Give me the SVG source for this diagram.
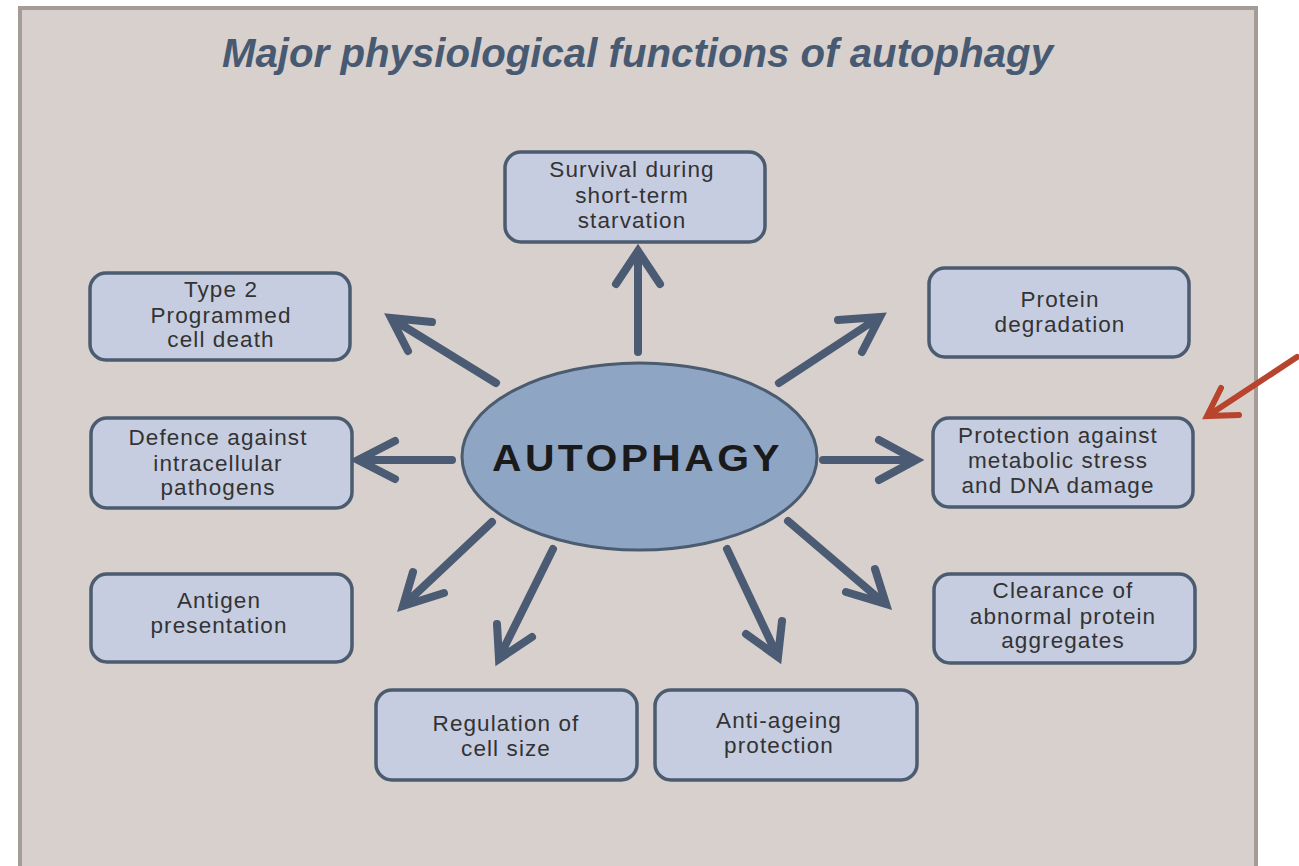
<svg xmlns="http://www.w3.org/2000/svg" width="1299" height="866" viewBox="0 0 1299 866">
  <defs>
    <style>
      .panel { fill: #d8d0cc; stroke: #a59c98; stroke-width: 4; }
      .title { font-family: "Liberation Sans", Arial, sans-serif; font-weight: bold; font-style: italic; font-size: 40px; fill: #475a72; }
      .box { fill: #c6cde0; stroke: #4b5b70; stroke-width: 3.5; }
      .lbl { font-family: "Liberation Sans", Arial, sans-serif; font-size: 22.5px; fill: #333333; letter-spacing: 1.1px; text-anchor: middle; }
      .center { fill: #8fa5c4; stroke: #4b5b70; stroke-width: 3; }
      .ctext { font-family: "Liberation Sans", Arial, sans-serif; font-weight: bold; font-size: 36px; fill: #1a1a1a; letter-spacing: 3px; }
      .arr { fill: none; stroke: #4a5b73; stroke-width: 8; stroke-linecap: round; stroke-linejoin: miter; }
      .red { fill: none; stroke: #b8442e; stroke-width: 6; stroke-linecap: round; stroke-linejoin: miter; }
    </style>
  </defs>

  <rect width="1299" height="866" fill="#ffffff"/>
  <rect class="panel" x="20" y="8" width="1236" height="880"/>

  <text class="title" x="222" y="67" textLength="831" lengthAdjust="spacingAndGlyphs">Major physiological functions of autophagy</text>

  <g id="connectors">
    <path class="arr" d="M638,352 L638,252 M616,284 L638,251 L660,284"/>
    <path class="arr" d="M496,383 L392,319 M408,351 L391,318 L432,322"/>
    <path class="arr" d="M452,460 L359,460 M395,441 L358,460 L395,479"/>
    <path class="arr" d="M492,522 L405,604 M413,572 L403,606 L444,593"/>
    <path class="arr" d="M553,549 L500,656 M497,624 L499,659 L532,637"/>
    <path class="arr" d="M727,549 L777,655 M746,634 L778,657 L782,621"/>
    <path class="arr" d="M788,521 L884,603 M846,592 L886,604 L875,569"/>
    <path class="arr" d="M823,460 L914,460 M879,440 L916,460 L879,480"/>
    <path class="arr" d="M779,383 L878,318 M838,320 L880,317 L862,352"/>
    <path class="red" d="M1297,357 L1209,415 M1221,388 L1207,416 L1239,415"/>
  </g>

  <g id="autophagy">
    <ellipse class="center" cx="639.5" cy="456.5" rx="177.5" ry="93.5"/>
    <text class="ctext" x="492" y="471" textLength="291" lengthAdjust="spacingAndGlyphs">AUTOPHAGY</text>
  </g>

  <g id="survival">
    <rect class="box" x="505" y="152" width="260" height="90" rx="16"/>
    <text class="lbl" x="632" y="177">Survival during</text>
    <text class="lbl" x="632" y="203">short-term</text>
    <text class="lbl" x="632" y="228">starvation</text>
  </g>

  <g id="type2">
    <rect class="box" x="90" y="273" width="260" height="87" rx="16"/>
    <text class="lbl" x="221" y="297">Type 2</text>
    <text class="lbl" x="221" y="323">Programmed</text>
    <text class="lbl" x="221" y="347">cell death</text>
  </g>

  <g id="protein-degradation">
    <rect class="box" x="929" y="268" width="260" height="89" rx="16"/>
    <text class="lbl" x="1060" y="307">Protein</text>
    <text class="lbl" x="1060" y="332">degradation</text>
  </g>

  <g id="defence">
    <rect class="box" x="91" y="418" width="261" height="90" rx="16"/>
    <text class="lbl" x="218" y="445">Defence against</text>
    <text class="lbl" x="218" y="471">intracellular</text>
    <text class="lbl" x="218" y="495">pathogens</text>
  </g>

  <g id="protection">
    <rect class="box" x="933" y="418" width="260" height="89" rx="16"/>
    <text class="lbl" x="1058" y="443">Protection against</text>
    <text class="lbl" x="1058" y="468">metabolic stress</text>
    <text class="lbl" x="1058" y="493">and DNA damage</text>
  </g>

  <g id="antigen">
    <rect class="box" x="91" y="574" width="261" height="88" rx="16"/>
    <text class="lbl" x="219" y="608">Antigen</text>
    <text class="lbl" x="219" y="633">presentation</text>
  </g>

  <g id="clearance">
    <rect class="box" x="934" y="574" width="261" height="89" rx="16"/>
    <text class="lbl" x="1063" y="598">Clearance of</text>
    <text class="lbl" x="1063" y="624">abnormal protein</text>
    <text class="lbl" x="1063" y="648">aggregates</text>
  </g>

  <g id="regulation">
    <rect class="box" x="376" y="690" width="261" height="90" rx="16"/>
    <text class="lbl" x="506" y="731">Regulation of</text>
    <text class="lbl" x="506" y="756">cell size</text>
  </g>

  <g id="anti-ageing">
    <rect class="box" x="655" y="690" width="262" height="90" rx="16"/>
    <text class="lbl" x="779" y="728">Anti-ageing</text>
    <text class="lbl" x="779" y="753">protection</text>
  </g>
</svg>
